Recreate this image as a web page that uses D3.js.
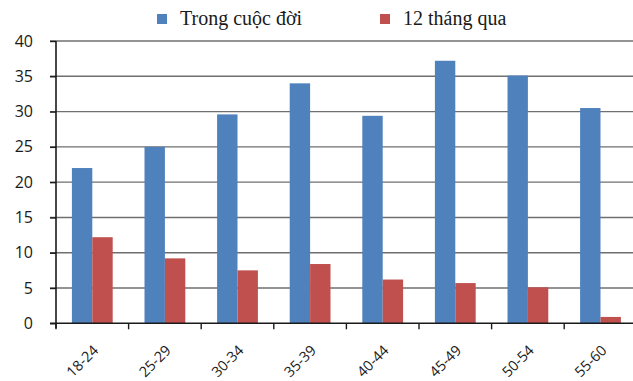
<!DOCTYPE html>
<html>
<head>
<meta charset="utf-8">
<script src="https://cdn.jsdelivr.net/npm/d3@7"></script>
<style>
  html, body { margin: 0; padding: 0; background: #fff; }
  svg { display: block; }
</style>
</head>
<body>
<svg id="chart" width="633" height="381"></svg>
<script>
// Age groups and the two shares (%) per group
const categories = ["18-24", "25-29", "30-34", "35-39", "40-44", "45-49", "50-54", "55-60"];
const seriesNames = ["Trong cuộc đời", "12 tháng qua"];
const lifetime = [22.0, 25.0, 29.6, 34.0, 29.4, 37.2, 35.1, 30.5];
const lastYear = [12.2, 9.2, 7.5, 8.4, 6.2, 5.7, 5.1, 0.9];
const yTicks = [0, 5, 10, 15, 20, 25, 30, 35, 40];
const colors = ["#4f81bd", "#c0504d"];

const rows = categories.map((c, i) => ({ cat: c, values: [lifetime[i], lastYear[i]] }));

const svg = d3.select("#chart");
const W = 633;
const plotLeft = 56, plotTop = 41, plotBottom = 323.3;
const bandW = 72.6;

const x = d3.scaleBand()
  .domain(categories)
  .range([plotLeft, plotLeft + bandW * categories.length])
  .paddingInner(0)
  .paddingOuter(0);

const inner = d3.scaleBand()
  .domain(d3.range(seriesNames.length))
  .range([0, x.bandwidth()])
  .paddingOuter(0.78)
  .paddingInner(0);

const y = d3.scaleLinear().domain([0, 40]).range([plotBottom, plotTop]);

// Horizontal gridlines (extend left to form the y ticks)
svg.append("g")
  .selectAll("line")
  .data(yTicks.filter(d => d > 0))
  .join("line")
  .attr("x1", plotLeft - 6)
  .attr("x2", W)
  .attr("y1", d => y(d))
  .attr("y2", d => y(d))
  .attr("stroke", "#6f6f6f")
  .attr("stroke-width", 1.4);

// Bars
svg.append("g")
  .selectAll("g")
  .data(rows)
  .join("g")
  .attr("transform", d => `translate(${x(d.cat)},0)`)
  .selectAll("rect")
  .data(d => d.values.map((v, k) => ({ v, k })))
  .join("rect")
  .attr("x", d => inner(d.k))
  .attr("width", inner.bandwidth())
  .attr("y", d => y(d.v))
  .attr("height", d => y(0) - y(d.v))
  .attr("fill", d => colors[d.k]);

// Y axis
const yAxis = d3.axisLeft(y)
  .tickValues(yTicks)
  .tickSize(6)
  .tickPadding(17)
  .tickFormat(d3.format("d"));
const gy = svg.append("g").attr("transform", `translate(${plotLeft},0)`).call(yAxis);
gy.select(".domain").remove();
gy.selectAll(".tick line").attr("stroke", "#1a1a1a").attr("stroke-width", 1.4);
gy.selectAll(".tick text")
  .attr("fill", "#1a1a1a")
  .style("font-family", "'Open Sans', sans-serif")
  .style("font-size", "16px");
svg.append("line")
  .attr("x1", plotLeft).attr("x2", plotLeft)
  .attr("y1", plotTop).attr("y2", plotBottom + 5)
  .attr("stroke", "#1a1a1a").attr("stroke-width", 1.6);

// X axis
const xAxis = d3.axisBottom(x).tickSize(0).tickFormat(d => d);
const gx = svg.append("g").attr("transform", `translate(0,${plotBottom})`).call(xAxis);
gx.select(".domain").remove();
gx.selectAll(".tick text").remove();
svg.append("line")
  .attr("x1", plotLeft - 6).attr("x2", W)
  .attr("y1", plotBottom).attr("y2", plotBottom)
  .attr("stroke", "#1a1a1a").attr("stroke-width", 1.6);
svg.append("g")
  .selectAll("line")
  .data(categories)
  .join("line")
  .attr("x1", d => x(d)).attr("x2", d => x(d))
  .attr("y1", plotBottom).attr("y2", plotBottom + 6)
  .attr("stroke", "#1a1a1a").attr("stroke-width", 1.4);

svg.append("g")
  .selectAll("text")
  .data(categories)
  .join("text")
  .attr("transform", d => `translate(${x(d) + x.bandwidth() / 2 + 7},${plotBottom + 28}) rotate(-45)`)
  .attr("text-anchor", "end")
  .attr("fill", "#1a1a1a")
  .style("font-family", "'Open Sans', sans-serif")
  .style("font-size", "14.5px")
  .text(d => d);

// Legend
const legendX = [157, 380];
const lg = svg.append("g")
  .selectAll("g")
  .data(seriesNames)
  .join("g")
  .attr("transform", (d, i) => `translate(${legendX[i]},14)`);
lg.append("rect")
  .attr("width", 10).attr("height", 10)
  .attr("fill", (d, i) => colors[i]);
lg.append("text")
  .attr("x", 23).attr("y", 10.5)
  .attr("fill", "#1a1a1a")
  .style("font-family", "'Liberation Serif', serif")
  .style("font-size", "20px")
  .text(d => d);
</script>
</body>
</html>
